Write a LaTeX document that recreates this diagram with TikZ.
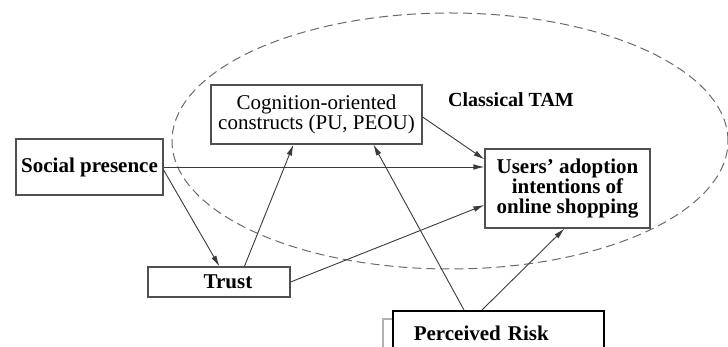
\documentclass[tikz,border=0pt]{standalone}
\usepackage{fontspec}
\setmainfont{Liberation Serif}
\usetikzlibrary{arrows.meta,positioning,calc}
\definecolor{ln}{HTML}{3A3A3A}
\definecolor{edge}{HTML}{505050}
\definecolor{dsh}{HTML}{6A6A6A}
\tikzset{
  box/.style={draw=edge,line width=0.6pt,align=center,inner sep=0pt,font=\fontsize{10.5}{10.2}\selectfont\bfseries},
  ar/.style={-{Latex[length=5.5pt,width=2.8pt]},line width=0.45pt,draw=ln},
}
\begin{document}
\begin{tikzpicture}[x=0.5pt,y=-0.5pt]
\clip (0,0) rectangle (728,347);
\draw[dsh,line width=0.5pt,dash pattern=on 4.5pt off 2.5pt] (450,141) ellipse [x radius=139pt,y radius=64pt];
\node[box,minimum width=73.5pt,minimum height=28pt] (soc) at (89.5,167) {Social presence};
\node[box,minimum width=71pt,minimum height=15pt] (trust) at (219,282) {\hspace*{9pt}Trust};
\node[box,font=\fontsize{10.5}{10}\selectfont,minimum width=105.5pt,minimum height=29.5pt] (cog) at (316.5,114.5) {Cognition-oriented\\constructs (PU, PEOU)};
\node[box,minimum width=82.5pt,minimum height=39.5pt] (users) at (567.5,188.5) {Users' adoption\\intentions of\\online shopping};
\node[font=\fontsize{10}{10}\selectfont\bfseries] (tam) at (511,100) {Classical TAM};
\node[box,draw=black,line width=0.8pt,anchor=north west,align=left,text width=84.5pt,inner xsep=10.5pt,inner ysep=7pt,text height=8pt,text depth=30pt] (risk) at (392,310) {Perceived Risk};
\draw[gray!60,line width=0.6pt] ($(risk.north west)+(0,9)$) -| ++(-9,60);

\draw[ar] (soc.east) -- (soc.east -| users.west);
\draw[ar] ($(soc.east)+(0,3)$) -- ($(trust.north west)+(72,0)$);
\draw[ar] ($(trust.north west)+(97,0)$) -- ($(cog.south west)+(83,0)$);
\draw[ar] (trust.east) -- ($(users.west)+(0,16.5)$);
\draw[ar] ($(cog.east)+(0,2.5)$) -- ($(users.north west)+(0,11)$);
\draw[ar] ($(risk.north west)+(72,0)$) -- ($(cog.south west)+(163,0)$);
\draw[ar] ($(risk.north west)+(90,0)$) -- ($(users.south west)+(80,0)$);
\end{tikzpicture}
\end{document}
